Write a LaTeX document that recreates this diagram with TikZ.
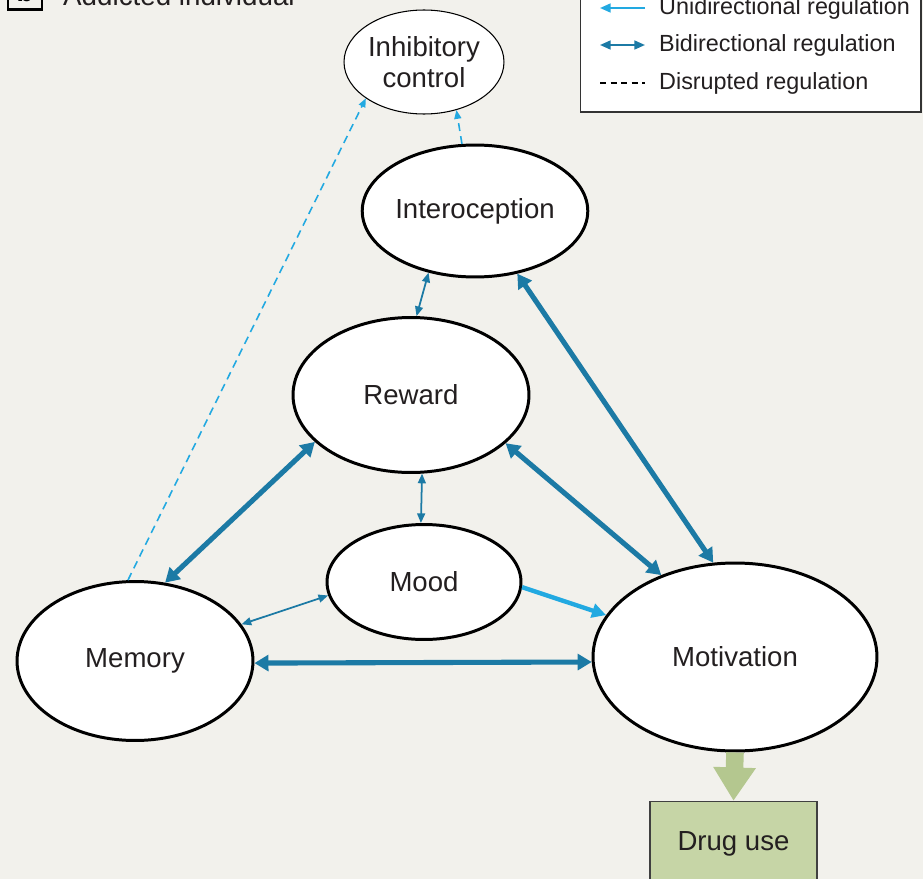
\documentclass[tikz,border=0pt]{standalone}
\usepackage{fontspec}
\setmainfont{Liberation Sans}
\usetikzlibrary{shapes.geometric,arrows.meta}
\definecolor{paper}{HTML}{F2F1EC}
\definecolor{darkreg}{HTML}{1C7AA5}
\definecolor{lightreg}{HTML}{22A9E1}
\definecolor{druggreen}{HTML}{C6D5A6}
\definecolor{arrowgreen}{HTML}{B4C78F}
\definecolor{inkgray}{HTML}{231F20}
\begin{document}
\begin{tikzpicture}[
            x=0.02cm, y=-0.02cm,
            region/.style={ellipse,draw=black,line width=1.7pt,fill=white,inner sep=0pt,
                text=inkgray,font=\fontsize{15.7}{17.6}\selectfont,align=center},
            weak region/.style={region,line width=0.6pt},
            strong/.style={darkreg,line width=2.9pt,{Triangle[length=8pt,width=9pt]}-{Triangle[length=8pt,width=9pt]}},
            thin link/.style={darkreg,line width=1pt,{Triangle[length=5.5pt,width=4.5pt]}-{Triangle[length=5.5pt,width=4.5pt]}},
            oneway/.style={lightreg,line width=2.5pt,-{Triangle[length=8pt,width=8pt]}},
            disrupted/.style={lightreg,line width=0.9pt,dash pattern=on 4.5pt off 3pt,-{Triangle[length=5pt,width=4pt]}},
            legend text/.style={anchor=west,text=inkgray,font=\fontsize{13.3}{15}\selectfont}
        ]
        \useasboundingbox (0,0) rectangle (923,879);
        \clip (0,0) rectangle (923,879);
        \fill[paper] (0,0) rectangle (923,879);

        \node[draw=black,line width=1.7pt,minimum width=0.68cm,minimum height=0.7cm,
            font=\fontsize{15.7}{17.6}\selectfont\bfseries] (panel) at (25,-8) {b};
        \node[anchor=base west,text=inkgray,font=\fontsize{15.8}{18}\selectfont] (title) at (57,6) {Addicted individual};

        \node[draw=black!80,line width=0.6pt,fill=white,minimum width=6.82cm,minimum height=2.6cm] (legend) at (750.5,47) {};
        \coordinate (uniA) at (600,8);
        \coordinate (uniB) at (645,8);
        \coordinate (biA) at (600,45);
        \coordinate (biB) at (645,45);
        \coordinate (disA) at (600,83);
        \coordinate (disB) at (645,83);
        \draw[lightreg,line width=1.1pt,-{Triangle[length=6pt,width=5pt]}] (uniB) -- (uniA);
        \draw[darkreg,line width=1.1pt,{Triangle[length=6pt,width=5pt]}-{Triangle[length=6pt,width=5pt]}] (biA) -- (biB);
        \draw[black,line width=1.1pt,dash pattern=on 3.5pt off 2.5pt] (disA) -- (disB);
        \node[legend text] (uniT) at (653,8) {Unidirectional regulation};
        \node[legend text] (biT) at (653,45) {Bidirectional regulation};
        \node[legend text] (disT) at (653,83) {Disrupted regulation};

        \node[weak region,minimum width=3.2cm,minimum height=2.08cm] (inhib) at (424,62) {Inhibitory\\control};
        \node[region,minimum width=3.94cm,minimum height=2.64cm] (intero) at (475,211) {Interoception};
        \node[region,minimum width=4.72cm,minimum height=3.1cm] (reward) at (411,395) {Reward};
        \node[region,minimum width=3.88cm,minimum height=2.3cm] (mood) at (424,582) {Mood};
        \node[region,minimum width=4.72cm,minimum height=3.18cm] (memory) at (135,661) {Memory};
        \node[region,minimum width=5.68cm,minimum height=3.76cm] (motiv) at (735,657) {Motivation};
        \node[draw=black!75,line width=0.8pt,fill=druggreen,minimum width=3.34cm,minimum height=1.7cm,
            text=inkgray,font=\fontsize{15.7}{17.6}\selectfont] (drug) at (733.5,844) {Drug use};

        \draw[arrowgreen,line width=10pt,-{Triangle[length=19pt,width=23pt]}] (motiv.south) -- (drug.north);

        \draw[strong] (memory.69) -- (reward.206);
        \draw[strong] (reward.-27) -- (motiv.132);
        \draw[strong] (intero.-56) -- (motiv.103);
        \draw[strong] (memory.-1) -- (motiv.182.5);
        \draw[thin link] (intero.233) -- (reward.86);
        \draw[thin link] (reward.-82) -- (mood.93);
        \draw[thin link] (mood.188) -- (memory.19);
        \draw[oneway] (mood.-3) -- (motiv.162);
        \draw[disrupted] (memory.95) -- (inhib.212);
        \draw[disrupted] (intero.101) -- (inhib.-56);
    \end{tikzpicture}
\end{document}
